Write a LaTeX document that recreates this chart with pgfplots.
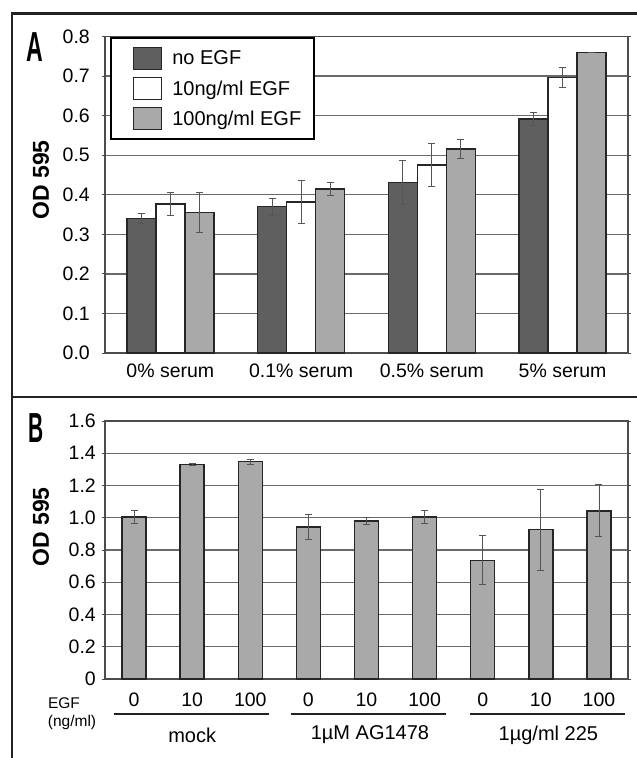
\documentclass[border=0pt]{standalone}
\usepackage{fontspec}
\setmainfont{Liberation Sans}
\usepackage{pgfplots}
\pgfplotsset{compat=1.18}
\definecolor{darkbar}{HTML}{5F5F5F}
\definecolor{lightbar}{HTML}{A9A9A9}
\definecolor{gridc}{HTML}{6A6A6A}
\definecolor{framec}{HTML}{222222}
\definecolor{errc}{HTML}{555555}
\pgfplotsset{
  mystyle/.style={
    scale only axis, width=523pt,
    axis line style={draw=black!70, line width=1.1pt},
    ymajorgrids, grid style={draw=gridc, line width=1.3pt},
    ytick style={draw=black!70, line width=1pt},
    xtick style={draw=none},
    tick align=outside, major tick length=3pt,
    tick label style={font=\fontsize{19.5}{20}\selectfont},
    /pgf/number format/assume math mode=true,
    ybar=0pt,
    enlargelimits=false,
    clip=false,
  },
  barsty/.style={draw=black!85, line width=1.5pt, fill=#1,
    legend image code/.code={\path (0pt,0pt) (47pt,0pt); \draw[##1, line width=1.3pt] (9pt,-11pt) rectangle (37pt,11pt);},
    error bars/.cd, y dir=both, y explicit,
    error bar style={draw=errc, line width=0.8pt},
    error mark options={rotate=90, mark size=3.5pt, draw=errc, line width=0.8pt}},
}
\begin{document}
\begin{tikzpicture}
\useasboundingbox (0pt,0pt) rectangle (637pt,-758pt);
% frame
\draw[line width=2.8pt, framec] (12pt,-760pt) -- (12pt,-13.5pt) -- (640pt,-13.5pt);
\draw[line width=2.6pt, framec] (12pt,-397pt) -- (640pt,-397pt);
% panel labels
\node at (35pt,-47pt) {\scalebox{0.55}[1]{\fontsize{42}{42}\selectfont\bfseries A}};
\node at (36.5pt,-428pt) {\scalebox{0.5}[1]{\fontsize{42}{42}\selectfont\bfseries B}};
\node[rotate=90, font=\fontsize{23}{24}\selectfont\bfseries] at (41pt,-180pt) {OD 595};
\node[rotate=90, font=\fontsize{23}{24}\selectfont\bfseries] at (41pt,-527pt) {OD 595};
\node[font=\fontsize{15.5}{16}\selectfont] at (64pt,-703pt) {EGF};
\node[font=\fontsize{15.5}{16}\selectfont] at (72pt,-722pt) {(ng/ml)};

% Panel A
\begin{axis}[mystyle,
  at={(105pt,-353pt)}, anchor=south west, height=316.5pt,
  ymin=0, ymax=0.8, ytick={0,0.1,0.2,0.3,0.4,0.5,0.6,0.7,0.8},
  /pgf/number format/fixed, /pgf/number format/fixed zerofill, /pgf/number format/precision=1,
  yticklabel style={anchor=east, inner sep=0pt, xshift=-12pt},
  xmin=-0.5, xmax=3.5, xtick={0,1,2,3},
  xticklabels={0\% serum, 0.1\% serum, 0.5\% serum, 5\% serum},
  xticklabel style={anchor=north, inner sep=0pt, yshift=-8pt},
  bar width=29pt,
  legend style={at={(axis description cs:0.0096,0.997)}, anchor=north west,
    draw=black, line width=1.6pt, fill=white,
    font=\fontsize{20}{22}\selectfont, inner xsep=13pt, inner ysep=8.5pt,
    row sep=6.8pt, nodes={inner sep=0pt},
    /tikz/every odd column/.append style={column sep=0pt}},
  legend cell align=left,
]
\addplot[barsty=darkbar] coordinates {(0,0.340) +- (0,0.013) (1,0.370) +- (0,0.022) (2,0.431) +- (0,0.055) (3,0.591) +- (0,0.016)};
\addplot[barsty=white] coordinates {(0,0.377) +- (0,0.028) (1,0.382) +- (0,0.054) (2,0.475) +- (0,0.055) (3,0.696) +- (0,0.025)};
\addplot[barsty=lightbar] coordinates {(0,0.355) +- (0,0.051) (1,0.415) +- (0,0.016) (2,0.516) +- (0,0.025) (3,0.759) +- (0,0)};
\legend{no EGF, 10ng/ml EGF, 100ng/ml EGF}
\end{axis}

% Panel B
\begin{axis}[mystyle,
  at={(105pt,-679pt)}, anchor=south west, height=258pt,
  ymin=0, ymax=1.6, ytick={0,0.2,0.4,0.6,0.8,1.0,1.2,1.4,1.6},
  yticklabels={0,0.2,0.4,0.6,0.8,1.0,1.2,1.4,1.6},
  yticklabel style={anchor=east, inner sep=0pt, xshift=-6pt},
  xmin=-0.5, xmax=8.5, xtick={0,1,2,3,4,5,6,7,8},
  xticklabels={0,10,100,0,10,100,0,10,100},
  xticklabel style={anchor=north, inner sep=0pt, yshift=-11pt},
  bar width=24pt,
]
\addplot[barsty=lightbar] coordinates {(0,1.006) +- (0,0.041) (1,1.331) +- (0,0.006) (2,1.348) +- (0,0.016)
  (3,0.943) +- (0,0.075) (4,0.981) +- (0,0.024) (5,1.005) +- (0,0.038)
  (6,0.736) +- (0,0.152) (7,0.926) +- (0,0.251) (8,1.043) +- (0,0.161)};
\draw[line width=2.2pt, framec] ([yshift=-35pt]axis cs:-0.345,0) -- ([yshift=-35pt]axis cs:2.32,0);
\draw[line width=2.2pt, framec] ([yshift=-35pt]axis cs:2.70,0) -- ([yshift=-35pt]axis cs:5.37,0);
\draw[line width=2.2pt, framec] ([yshift=-35pt]axis cs:5.78,0) -- ([yshift=-35pt]axis cs:8.45,0);
\node[font=\fontsize{20}{22}\selectfont] at ([yshift=-56pt]axis cs:1,0) {mock};
\node[font=\fontsize{20}{22}\selectfont] at ([yshift=-56pt]axis cs:4.06,0) {1µM AG1478};
\node[font=\fontsize{20}{22}\selectfont] at ([yshift=-56pt]axis cs:7.13,0) {1µg/ml 225};
\end{axis}
\end{tikzpicture}
\end{document}
